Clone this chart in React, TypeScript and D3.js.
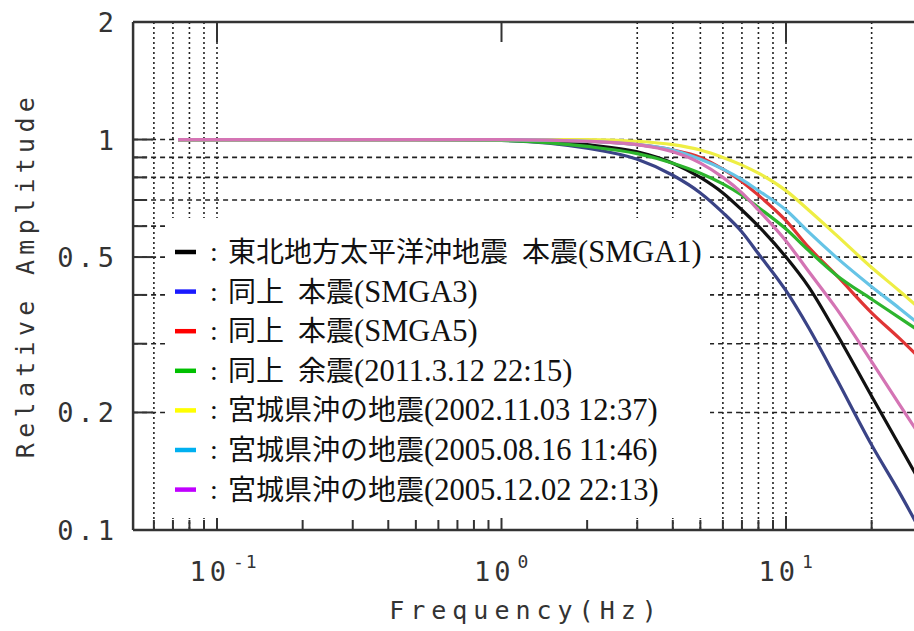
import React from 'react';
import * as d3 from 'd3';

// frequencies (Hz) sampled along every curve
const freqs = [0.073, 0.5, 1, 2, 3, 4, 5, 6, 7, 8, 10, 12, 15, 20, 25, 32];

// relative amplitude of each event
const smga1 = [1, 1, 1, 0.97, 0.93, 0.87, 0.8, 0.73, 0.66, 0.6, 0.5, 0.42, 0.32, 0.22, 0.165, 0.12];
const smga3 = [1, 1, 0.995, 0.95, 0.89, 0.81, 0.73, 0.65, 0.58, 0.51, 0.41, 0.33, 0.245, 0.165, 0.125, 0.09];
const smga5 = [1, 1, 1, 0.99, 0.97, 0.94, 0.9, 0.84, 0.78, 0.72, 0.62, 0.53, 0.45, 0.36, 0.31, 0.26];
const aftershock = [1, 1, 0.995, 0.96, 0.92, 0.87, 0.82, 0.77, 0.72, 0.67, 0.59, 0.52, 0.45, 0.39, 0.35, 0.31];
const miyagi2002 = [1, 1, 1, 1, 0.99, 0.97, 0.94, 0.9, 0.86, 0.82, 0.74, 0.66, 0.57, 0.47, 0.41, 0.35];
const miyagi0816 = [1, 1, 1, 0.99, 0.97, 0.94, 0.89, 0.84, 0.79, 0.74, 0.66, 0.58, 0.5, 0.42, 0.37, 0.32];
const miyagi1202 = [1, 1, 1, 0.99, 0.97, 0.93, 0.87, 0.8, 0.73, 0.66, 0.55, 0.46, 0.37, 0.27, 0.21, 0.16];

const seriesValues = [smga1, smga3, smga5, aftershock, miyagi2002, miyagi0816, miyagi1202];
// legend text: japanese part, then the bracketed part
const seriesNames = [
  '東北地方太平洋沖地震\u2002本震',
  '同上\u2002本震',
  '同上\u2002本震',
  '同上\u2002余震',
  '宮城県沖の地震',
  '宮城県沖の地震',
  '宮城県沖の地震',
];
const seriesNotes = [
  '(SMGA1)',
  '(SMGA3)',
  '(SMGA5)',
  '(2011.3.12 22:15)',
  '(2002.11.03 12:37)',
  '(2005.08.16 11:46)',
  '(2005.12.02 22:13)',
];
const legendColors = ['#000000', '#1a1aff', '#ff0000', '#00c000', '#ffff00', '#00b0f0', '#c000ff'];
const lineColors = ['#111111', '#3a4386', '#e03535', '#2db52d', '#eeee44', '#66c4e6', '#d474b4'];

const yTickLabels = [
  { v: 2, t: '2' },
  { v: 1, t: '1' },
  { v: 0.5, t: '0.5' },
  { v: 0.2, t: '0.2' },
  { v: 0.1, t: '0.1' },
];
const xTickLabels = [
  { v: 0.1, e: '-1' },
  { v: 1, e: '0' },
  { v: 10, e: '1' },
];
const xGridValues = [0.06, 0.07, 0.08, 0.09, 0.1, 3, 4, 5, 6, 7, 8, 9, 10, 20];
const yGridValues = [0.2, 0.3, 0.4, 0.5, 0.6, 0.7, 0.8, 0.9, 1];
const yMinorTicks = [0.3, 0.4, 0.6, 0.7, 0.8, 0.9];

export default function App() {
  const width = 914;
  const height = 631;

  const x = d3.scaleLog().domain([0.1, 10]).range([217, 786]);
  const y = d3.scaleLog().domain([0.1, 2]).range([530, 22]);

  const left = x(0.0507);
  const right = width;
  const top = y(2);
  const bottom = y(0.1);

  const xTicks: number[] = [];
  for (let k = -2; k <= 1; k++) {
    for (let n = 1; n <= 9; n++) {
      const v = n * Math.pow(10, k);
      if (v > 0.051 && x(v) < width) xTicks.push(v);
    }
  }

  const line = d3.line<[number, number]>()
    .x(d => x(d[0]))
    .y(d => y(d[1]))
    .curve(d3.curveMonotoneX);

  const axisColor = '#333';
  const monoFont = "'DejaVu Sans Mono', monospace";

  const legendTop = 252;
  const legendStep = 39.6;

  return (
    <svg width={width} height={height} style={{ position: 'absolute', left: 0, top: 0, background: '#fff' }}>
      <defs>
        <clipPath id="plotClip">
          <rect x={left} y={top} width={right - left} height={bottom - top} />
        </clipPath>
      </defs>

      {/* grid */}
      <g stroke="#222" strokeWidth={1.6}>
        {xGridValues.map(v => (
          <line key={'gx' + v} x1={x(v)} x2={x(v)} y1={top} y2={bottom} strokeDasharray="2,3" />
        ))}
        {yGridValues.map(v => (
          <line key={'gy' + v} x1={left} x2={right} y1={y(v)} y2={y(v)} strokeDasharray="5,4" />
        ))}
      </g>

      {/* curves */}
      <g clipPath="url(#plotClip)" fill="none" strokeWidth={3.2}>
        {seriesValues.map((vals, i) => (
          <path
            key={'s' + i}
            d={line(freqs.map((f, j) => [f, vals[j]] as [number, number])) || ''}
            stroke={lineColors[i]}
          />
        ))}
      </g>

      {/* axes */}
      <g stroke={axisColor} strokeWidth={2.5} fill="none">
        <line x1={left} x2={left} y1={top} y2={bottom} />
        <line x1={left} x2={right} y1={top} y2={top} />
        <line x1={left} x2={right} y1={bottom} y2={bottom} />
        {xTicks.map(v => {
          const major = Math.abs(Math.log10(v) - Math.round(Math.log10(v))) < 1e-6;
          return (
            <g key={'xt' + v}>
              <line x1={x(v)} x2={x(v)} y1={bottom} y2={bottom - (major ? 14 : 10)} strokeWidth={2} />
              {major && <line x1={x(v)} x2={x(v)} y1={top} y2={top + 20} strokeWidth={2} />}
            </g>
          );
        })}
        {yTickLabels.map(t => (
          <line key={'ytm' + t.v} x1={left} x2={left + 20} y1={y(t.v)} y2={y(t.v)} strokeWidth={2} />
        ))}
        {yMinorTicks.map(v => (
          <line key={'ytn' + v} x1={left} x2={left + 14} y1={y(v)} y2={y(v)} strokeWidth={2} />
        ))}
      </g>

      {/* tick labels */}
      <g fill={axisColor} fontFamily={monoFont} fontSize={27} letterSpacing={4}>
        {yTickLabels.map(t => (
          <text key={'yl' + t.v} x={118} y={y(t.v) + 10} textAnchor="end">{t.t}</text>
        ))}
        {xTickLabels.map(t => (
          <g key={'xl' + t.v}>
            <text x={x(t.v) + 13} y={581} textAnchor="end">10</text>
            <text x={x(t.v) + 16} y={568} fontSize={18} letterSpacing={2}>{t.e}</text>
          </g>
        ))}
      </g>

      {/* axis titles */}
      <text x={526} y={619} textAnchor="middle" fill={axisColor} fontFamily={monoFont} fontSize={25} letterSpacing={6}>
        Frequency(Hz)
      </text>
      <text
        transform={`translate(34,275) rotate(-90)`}
        textAnchor="middle"
        fill={axisColor}
        fontFamily={monoFont}
        fontSize={25}
        letterSpacing={5.3}
      >
        Relative Amplitude
      </text>

      {/* legend */}
      <rect x={165} y={218} width={545} height={300} fill="#fff" />
      <g fontFamily="'Liberation Serif', 'Noto Sans CJK JP', serif" fontSize={28} fill="#111">
        {seriesNames.map((name, i) => {
          const cy = legendTop + i * legendStep;
          return (
            <g key={'lg' + i}>
              <line x1={175} x2={196} y1={cy} y2={cy} stroke={legendColors[i]} strokeWidth={4.5} />
              <text x={214} y={cy + 9} textAnchor="middle">:</text>
              <text x={228} y={cy + 10}>
                {name}
                <tspan fontSize={30.5}>{seriesNotes[i]}</tspan>
              </text>
            </g>
          );
        })}
      </g>
    </svg>
  );
}
